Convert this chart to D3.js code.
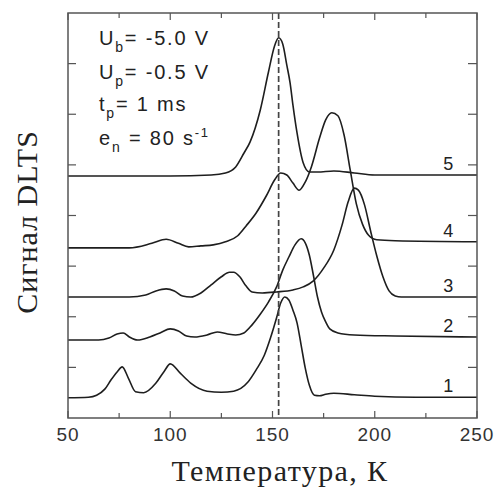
<!DOCTYPE html>
<html>
<head>
<meta charset="utf-8">
<script src="https://cdn.jsdelivr.net/npm/d3@7"></script>
<style>
  body { margin: 0; background: #fff; }
  .curve { fill: none; stroke: #1e1e1e; stroke-width: 1.6; }
  .tick-label { font-family: Arial, "Liberation Sans", sans-serif; font-size: 19px; fill: #333; letter-spacing: 1px; }
  .num-label { font-family: Arial, "Liberation Sans", sans-serif; font-size: 18px; fill: #222; }
  .title { font-family: "Times New Roman", "Liberation Serif", serif; fill: #222; font-size: 30px; }
  .info { font-family: Arial, "Liberation Sans", sans-serif; font-size: 20px; fill: #222; letter-spacing: 1.8px; }
</style>
</head>
<body>
<svg id="canvas" width="497" height="488"></svg>
<script>
// temperatures (K) and DLTS signal (offset units)
const t1 = [50, 60, 64, 68, 71, 74, 76.5, 79.5, 83, 87, 93, 97, 100, 105, 110, 118, 125, 131, 138, 142, 146, 149, 152, 154, 156, 158, 160, 162, 164, 166, 168, 170.5, 173, 176, 180, 190, 200, 220, 250];
const s1 = [0.40, 0.41, 0.45, 0.57, 0.75, 0.91, 1.01, 0.79, 0.52, 0.50, 0.69, 0.92, 1.07, 0.88, 0.69, 0.53, 0.51, 0.53, 0.71, 0.95, 1.24, 1.58, 1.98, 2.27, 2.39, 2.33, 2.13, 1.88, 1.44, 0.99, 0.65, 0.45, 0.44, 0.47, 0.49, 0.46, 0.43, 0.41, 0.41];

const t2 = [50, 65, 70, 74, 77, 80, 84, 90, 95, 100, 104, 108, 112, 118, 123, 128, 132, 136, 140, 144, 148, 152, 155, 158, 161, 164, 166, 168, 170, 172, 174, 176, 178, 182, 190, 210, 250];
const s2 = [1.54, 1.54, 1.58, 1.66, 1.68, 1.60, 1.54, 1.60, 1.68, 1.76, 1.72, 1.62, 1.60, 1.64, 1.70, 1.66, 1.64, 1.68, 1.84, 2.05, 2.29, 2.59, 2.92, 3.18, 3.42, 3.54, 3.46, 3.22, 2.82, 2.39, 2.09, 1.90, 1.76, 1.68, 1.64, 1.62, 1.60];

const t3 = [50, 80, 88, 93, 98, 102, 106, 110, 115, 120, 125, 129, 131, 134, 137, 140, 145, 152, 160, 165, 170, 175, 180, 184, 187, 190, 192, 195, 198, 201, 204, 207, 210, 213, 250];
const s3 = [2.39, 2.39, 2.43, 2.51, 2.55, 2.51, 2.41, 2.39, 2.47, 2.63, 2.79, 2.88, 2.88, 2.79, 2.61, 2.49, 2.47, 2.49, 2.53, 2.59, 2.71, 2.96, 3.32, 3.81, 4.27, 4.54, 4.50, 4.21, 3.69, 3.20, 2.79, 2.51, 2.41, 2.39, 2.39];

const t4 = [50, 80, 91, 98, 104, 109, 115, 121, 127, 133, 137, 142, 147, 151, 154, 157, 160, 163, 166, 169, 173, 176, 179, 182, 185, 188, 191, 194, 197, 201, 210, 250];
const s4 = [3.36, 3.36, 3.45, 3.53, 3.45, 3.38, 3.40, 3.42, 3.48, 3.60, 3.79, 4.05, 4.39, 4.70, 4.84, 4.80, 4.64, 4.50, 4.66, 4.96, 5.53, 5.89, 6.03, 5.97, 5.59, 4.90, 4.23, 3.83, 3.61, 3.52, 3.50, 3.48];

const t5 = [50, 100, 120, 127, 132, 136, 139, 144, 148, 151, 153, 155, 157, 158.6, 160, 162, 165, 168, 172, 180, 190, 200, 250];
const s5 = [4.78, 4.78, 4.80, 4.84, 4.96, 5.23, 5.45, 6.08, 6.83, 7.35, 7.51, 7.39, 6.97, 6.62, 6.18, 5.63, 5.04, 4.86, 4.86, 4.88, 4.84, 4.80, 4.80];

const series = [
  { name: "1", t: t1, s: s1 },
  { name: "2", t: t2, s: s2 },
  { name: "3", t: t3, s: s3 },
  { name: "4", t: t4, s: s4 },
  { name: "5", t: t5, s: s5 }
];

const xMajor = [50, 100, 150, 200, 250];
const xMinor = [75, 125, 175, 225];
const yTicks = [1, 2, 3, 4, 5, 6, 7];
const markerT = 153;
const labelT = 236;

const svg = d3.select("#canvas");
const width = 497, height = 488;
const margin = { top: 13, right: 20, bottom: 70, left: 68 };

const x = d3.scaleLinear().domain([50, 250]).range([margin.left, width - margin.right]);
const y = d3.scaleLinear().domain([0, 8]).range([height - margin.bottom, margin.top]);

// curves
const line = d3.line()
    .x(d => x(d[0]))
    .y(d => y(d[1]))
    .curve(d3.curveMonotoneX);

svg.append("g").selectAll("path")
    .data(series)
    .join("path")
    .attr("class", "curve")
    .attr("d", d => line(d.t.map((t, i) => [t, d.s[i]])));

// dashed marker
svg.append("line")
    .attr("x1", x(markerT)).attr("x2", x(markerT))
    .attr("y1", y(8)).attr("y2", y(0))
    .attr("stroke", "#444").attr("stroke-width", 1.7)
    .attr("stroke-dasharray", "6,3");

// frame
svg.append("rect")
    .attr("x", x(50)).attr("y", y(8))
    .attr("width", x(250) - x(50)).attr("height", y(0) - y(8))
    .attr("fill", "none").attr("stroke", "#555").attr("stroke-width", 1.5);

// ticks, all pointing inward
const axisG = svg.append("g").attr("stroke", "#555").attr("stroke-width", 1.2);
xMajor.concat(xMinor).forEach(v => {
  const len = xMajor.includes(v) ? 7 : 5;
  axisG.append("line").attr("x1", x(v)).attr("x2", x(v)).attr("y1", y(0)).attr("y2", y(0) - len);
  axisG.append("line").attr("x1", x(v)).attr("x2", x(v)).attr("y1", y(8)).attr("y2", y(8) + len);
});
yTicks.forEach(v => {
  axisG.append("line").attr("x1", x(50)).attr("x2", x(50) + 8).attr("y1", y(v)).attr("y2", y(v));
  axisG.append("line").attr("x1", x(250)).attr("x2", x(250) - 9).attr("y1", y(v)).attr("y2", y(v));
});

svg.append("g").selectAll("text")
    .data(xMajor)
    .join("text")
    .attr("class", "tick-label")
    .attr("x", d => x(d))
    .attr("y", 441)
    .attr("text-anchor", "middle")
    .text(d => d);

// curve numbers
svg.append("g").selectAll("text")
    .data(series)
    .join("text")
    .attr("class", "num-label")
    .attr("x", x(labelT))
    .attr("y", d => y(d.s[d.s.length - 1]) - 5)
    .attr("text-anchor", "middle")
    .text(d => d.name);

// axis titles
svg.append("text")
    .attr("class", "title")
    .style("letter-spacing", "1.4px")
    .attr("x", 280).attr("y", 481)
    .attr("text-anchor", "middle")
    .text("Температура, К");

svg.append("text")
    .attr("class", "title")
    .style("letter-spacing", "1px")
    .attr("transform", "translate(37,222) rotate(-90)")
    .attr("text-anchor", "middle")
    .text("Сигнал DLTS");

// measurement conditions
const info = [
  { main: "U", sub: "b", rest: "= -5.0 V", sup: null, y: 45 },
  { main: "U", sub: "p", rest: "= -0.5 V", sup: null, y: 79 },
  { main: "t", sub: "p", rest: "= 1 ms", sup: null, y: 111 },
  { main: "e", sub: "n", rest: " = 80 s", sup: "-1", y: 145 }
];
info.forEach(d => {
  const t = svg.append("text").attr("class", "info").attr("x", 99).attr("y", d.y);
  t.append("tspan").text(d.main);
  t.append("tspan").attr("dy", 7).style("font-size", "14px").text(d.sub);
  t.append("tspan").attr("dy", -7).text(d.rest);
  if (d.sup) t.append("tspan").attr("dy", -8).style("font-size", "13px").text(d.sup);
});
</script>
</body>
</html>
